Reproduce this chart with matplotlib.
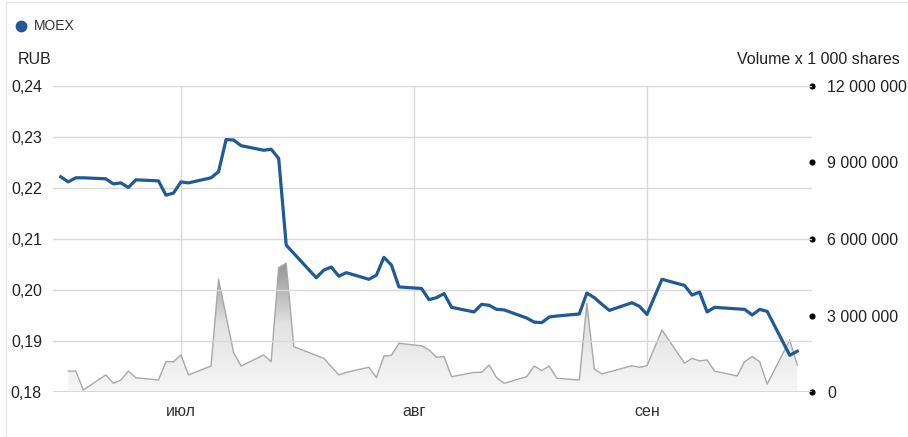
import matplotlib
matplotlib.use("Agg")
import matplotlib.pyplot as plt
import matplotlib.dates as mdates
from matplotlib.colors import LinearSegmentedColormap
from matplotlib.patches import Rectangle
from matplotlib.ticker import FuncFormatter
import numpy as np
import pandas as pd

plt.rcParams['font.family'] = ['Liberation Sans', 'DejaVu Sans']

# ---------------- data ----------------
price_dates = ["2021-06-15", "2021-06-16", "2021-06-17", "2021-06-18", "2021-06-21",
               "2021-06-22", "2021-06-23", "2021-06-24", "2021-06-25", "2021-06-28",
               "2021-06-29", "2021-06-30", "2021-07-01", "2021-07-02", "2021-07-05",
               "2021-07-06", "2021-07-07", "2021-07-08", "2021-07-09", "2021-07-12",
               "2021-07-13", "2021-07-14", "2021-07-15", "2021-07-19", "2021-07-20",
               "2021-07-21", "2021-07-22", "2021-07-23", "2021-07-26", "2021-07-27",
               "2021-07-28", "2021-07-29", "2021-07-30", "2021-08-02", "2021-08-03",
               "2021-08-04", "2021-08-05", "2021-08-06", "2021-08-09", "2021-08-10",
               "2021-08-11", "2021-08-12", "2021-08-13", "2021-08-16", "2021-08-17",
               "2021-08-18", "2021-08-19", "2021-08-20", "2021-08-23", "2021-08-24",
               "2021-08-25", "2021-08-26", "2021-08-27", "2021-08-30", "2021-08-31",
               "2021-09-01", "2021-09-03", "2021-09-06", "2021-09-07", "2021-09-08",
               "2021-09-09", "2021-09-10", "2021-09-13", "2021-09-14", "2021-09-15",
               "2021-09-16", "2021-09-17", "2021-09-20", "2021-09-21"]
price = [0.2222, 0.2212, 0.2220, 0.2220, 0.2218,
         0.2208, 0.2210, 0.2201, 0.2216, 0.2214,
         0.2186, 0.2190, 0.2212, 0.2210, 0.2220,
         0.2232, 0.2295, 0.2294, 0.2283, 0.2274,
         0.2276, 0.2258, 0.2088, 0.2024, 0.2039,
         0.2045, 0.2027, 0.2034, 0.2021, 0.2029,
         0.2064, 0.2049, 0.2006, 0.2003, 0.1981,
         0.1985, 0.1993, 0.1966, 0.1957, 0.1972,
         0.1970, 0.1962, 0.1961, 0.1945, 0.1937,
         0.1936, 0.1947, 0.1949, 0.1953, 0.1994,
         0.1985, 0.1972, 0.1960, 0.1975, 0.1968,
         0.1952, 0.2021, 0.2009, 0.1990, 0.1996,
         0.1957, 0.1966, 0.1963, 0.1962, 0.1951,
         0.1962, 0.1958, 0.1872, 0.1880]

vol_dates = ["2021-06-16", "2021-06-17", "2021-06-18", "2021-06-21", "2021-06-22",
             "2021-06-23", "2021-06-24", "2021-06-25", "2021-06-28", "2021-06-29",
             "2021-06-30", "2021-07-01", "2021-07-02", "2021-07-05", "2021-07-06",
             "2021-07-08", "2021-07-09", "2021-07-12", "2021-07-13", "2021-07-14",
             "2021-07-15", "2021-07-16", "2021-07-20", "2021-07-22", "2021-07-23",
             "2021-07-26", "2021-07-27", "2021-07-28", "2021-07-29", "2021-07-30",
             "2021-08-02", "2021-08-03", "2021-08-04", "2021-08-05", "2021-08-06",
             "2021-08-09", "2021-08-10", "2021-08-11", "2021-08-12", "2021-08-13",
             "2021-08-16", "2021-08-17", "2021-08-18", "2021-08-19", "2021-08-20",
             "2021-08-23", "2021-08-24", "2021-08-25", "2021-08-26", "2021-08-30",
             "2021-08-31", "2021-09-01", "2021-09-03", "2021-09-06", "2021-09-07",
             "2021-09-08", "2021-09-09", "2021-09-10", "2021-09-13", "2021-09-14",
             "2021-09-15", "2021-09-16", "2021-09-17", "2021-09-20", "2021-09-21"]
volume = [820000, 820000, 80000, 670000, 340000,
          470000, 820000, 560000, 470000, 1190000,
          1190000, 1450000, 670000, 1020000, 4420000,
          1540000, 1020000, 1450000, 1190000, 4880000,
          5050000, 1780000, 1320000, 670000, 770000,
          970000, 560000, 1410000, 1440000, 1910000,
          1810000, 1650000, 1360000, 1390000, 600000,
          770000, 770000, 1060000, 560000, 340000,
          600000, 1020000, 840000, 1020000, 540000,
          470000, 3480000, 890000, 710000, 1030000,
          970000, 1030000, 2430000, 1130000, 1320000,
          1220000, 1260000, 820000, 630000, 1190000,
          1390000, 1190000, 310000, 2040000, 1060000]

price_ticks = [0.18, 0.19, 0.20, 0.21, 0.22, 0.23, 0.24]
volume_ticks = [0, 3000000, 6000000, 9000000, 12000000]
month_ticks = ["2021-07-01", "2021-08-01", "2021-09-01"]
month_labels = ["июл", "авг", "сен"]
series_name = "MOEX"

# ---------------- figure ----------------
W, H = 908, 437
fig = plt.figure(figsize=(W / 100, H / 100), dpi=100)
fig.patch.set_facecolor("white")

left, right, bottom, top = 53, 812, 392, 86
rect = [left / W, 1 - bottom / H, (right - left) / W, (bottom - top) / H]

axv = fig.add_axes(rect)          # volume (below)
axp = axv.twinx()                  # price (on top)
axp.set_zorder(axv.get_zorder() + 1)
axp.patch.set_visible(False)

pd_x = mdates.date2num(pd.to_datetime(price_dates))
vd_x = mdates.date2num(pd.to_datetime(vol_dates))
jul1 = mdates.date2num(pd.Timestamp("2021-07-01"))
xmin, xmax = jul1 - 17.03, jul1 + 83.96

TXT = 11.5

# volume area with vertical gradient
poly = axv.fill_between(vd_x, 0, volume, facecolor="none", edgecolor="none")
cmap = LinearSegmentedColormap.from_list("g", ["#f7f7f7", "#e2e2e2", "#8a8a8a"])
grad = np.linspace(0, 1, 256).reshape(-1, 1)
im = axv.imshow(grad, cmap=cmap, aspect="auto", origin="lower",
                extent=[xmin, xmax, 0, 5300000], zorder=1)
im.set_clip_path(poly.get_paths()[0], transform=axv.transData)
axv.plot(vd_x, volume, color="#a8a8a8", lw=1.0, zorder=2)

axv.set_xlim(xmin, xmax)
axv.set_ylim(0, 12000000)
axv.yaxis.tick_right()
axv.set_yticks(volume_ticks)
axv.yaxis.set_major_formatter(FuncFormatter(lambda v, p: f"{int(v):,}".replace(",", " ")))
axv.tick_params(axis="y", which="both", length=0, pad=11, labelsize=TXT, labelcolor="#222222",
                left=False, right=True, labelleft=False, labelright=True)
for t in axv.yaxis.get_major_ticks():
    t.tick2line.set_marker("o")
    t.tick2line.set_markersize(3.6)
    t.tick2line.set_markerfacecolor("black")
    t.tick2line.set_markeredgecolor("black")
for s in axv.spines.values():
    s.set_visible(False)

# x axis: month gridlines and labels
axv.set_xticks(mdates.date2num(pd.to_datetime(month_ticks)))
axv.set_xticklabels(month_labels)
axv.grid(True, axis="x", color="#d9d9d9", lw=1.0)
axv.set_axisbelow(True)
axv.tick_params(axis="x", length=0, pad=9, labelsize=TXT, labelcolor="#333333")

# price
axp.plot(pd_x, price, color="#1f5a96", lw=2.3, zorder=5, solid_joinstyle="round")
axp.set_xlim(xmin, xmax)
axp.set_ylim(0.18, 0.24)
axp.yaxis.tick_left()
axp.set_yticks(price_ticks)
axp.yaxis.set_major_formatter(FuncFormatter(lambda v, p: f"{v:.2f}".replace(".", ",")))
axp.tick_params(axis="y", length=0, pad=8, labelsize=TXT, labelcolor="#222222",
                left=True, right=False, labelleft=True, labelright=False)
axp.grid(True, axis="y", color="#d9d9d9", lw=1.0, zorder=0)
for s in axp.spines.values():
    s.set_visible(False)
axp.axhline(0.18, color="#cfcfcf", lw=1.8, zorder=3)

# texts
fig.text(18 / W, 1 - 60 / H, "RUB", fontsize=TXT, color="#222222", va="center", ha="left")
fig.text(737 / W, 1 - 60 / H, "Volume x 1 000 shares", fontsize=TXT, color="#222222",
         va="center", ha="left")
fig.add_artist(plt.Line2D([21 / W], [1 - 26 / H], marker="o", markersize=7.5,
                          color="#1f5a96", linestyle="none"))
fig.text(34 / W, 1 - 26 / H, series_name, fontsize=10, color="#333333", va="center", ha="left")

# outer frame
fig.add_artist(Rectangle((6 / W, -0.05), 1.2, 1 - 2 / H + 0.05, transform=fig.transFigure,
                         fill=False, edgecolor="#e6e6e6", lw=1.0))

fig.savefig("out.png", dpi=100, facecolor="white")
